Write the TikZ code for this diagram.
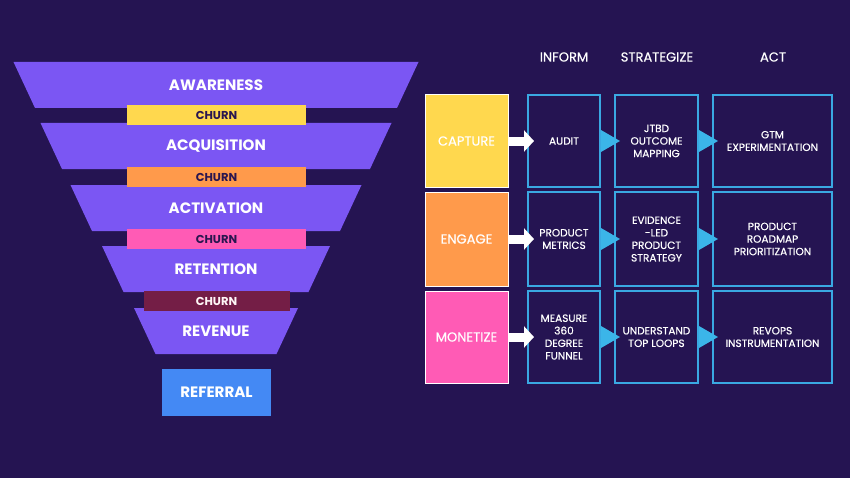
\documentclass[tikz,border=0pt]{standalone}
\usepackage{fontspec}
\setmainfont{Poppins}
\newfontfamily\popmid[FakeBold=0.5]{Poppins}
\usetikzlibrary{arrows.meta,calc}
\definecolor{bgind}{HTML}{251452}
\definecolor{funnel}{HTML}{7B56F3}
\definecolor{yel}{HTML}{FFD84E}
\definecolor{ora}{HTML}{FF9A4B}
\definecolor{pnk}{HTML}{FF5BB5}
\definecolor{wine}{HTML}{741E46}
\definecolor{ink}{HTML}{2A1650}
\definecolor{refblue}{HTML}{4489F4}
\definecolor{cyanline}{HTML}{3AA8E2}
\definecolor{tri}{HTML}{3BB5E9}
\tikzset{every picture/.style={line width=0.75pt}}

\begin{document}
\begin{tikzpicture}[x=0.75pt,y=0.75pt,yscale=-1,xscale=1,
  layerlabel/.style={text=white,font=\fontsize{11.3}{13}\selectfont\bfseries,inner sep=0.75pt},
  churnlabel/.style={font=\fontsize{8.6}{10}\selectfont\bfseries,inner sep=0.75pt},
  stagebox/.style={draw=white,line width=0.75pt,minimum width=62.25pt,minimum height=69pt,inner sep=0pt,text=white,font=\fontsize{9.8}{11}\selectfont\popmid},
  stepbox/.style={draw=cyanline,line width=1.5pt,fill=bgind,minimum height=69pt,inner sep=0pt,text=white,align=center,font=\fontsize{7.9}{9.4}\selectfont\popmid},
  colhead/.style={text=white,font=\fontsize{9.8}{11}\selectfont\popmid,inner sep=0.75pt},
  wharrow/.style={draw=white,line width=6.75pt,-{Triangle[length=7.5pt,width=15.75pt]}},
  bluetip/.style={fill=tri}]

% background
\fill[bgind] (0,0) rectangle (850,478);

% funnel layers
\foreach \name/\txt/\top/\hw in {aware/AWARENESS/62/202.5,acq/ACQUISITION/123/175.5,act/ACTIVATION/185/145.5,ret/RETENTION/246/114,rev/REVENUE/308/82}{
  \fill[funnel] (216-\hw,\top) -- (216+\hw,\top) -- (216+\hw-21.5,\top+46) -- (216-\hw+21.5,\top+46) -- cycle;
  \node[layerlabel] (\name) at (216,\top+23) {\txt};
}

% churn bars
\foreach \name/\y/\hw/\col/\tc in {chone/115/89.5/yel/ink,chtwo/177/89.5/ora/ink,chthree/239/89.5/pnk/ink,chfour/301/73/wine/white!88!pink}{
  \fill[\col] (216.5-\hw,\y-10) rectangle (216.5+\hw,\y+10);
  \node[churnlabel,text=\tc] (\name) at (216.5,\y) {CHURN};
}

% referral
\node[fill=refblue,minimum width=81.75pt,minimum height=35.25pt,inner sep=0pt,layerlabel] (refl) at (216.5,392.5) {REFERRAL};

% column heads
\node[colhead] (inform) at (564,57) {INFORM};
\node[colhead] (strat) at (657,57) {STRATEGIZE};
\node[colhead] (actcol) at (773,57) {ACT};

% stage boxes
\node[stagebox,fill=yel] (cap) at (466.5,141) {CAPTURE};
\node[stagebox,fill=ora,minimum height=70.5pt] (eng) at (466.5,239) {ENGAGE};
\node[stagebox,fill=pnk] (mon) at (466.5,337) {MONETIZE};

% inform
\node[stepbox,minimum width=54pt] (aud) at (564,141) {AUDIT};
\node[stepbox,minimum width=54pt,minimum height=70.5pt] (pmet) at (564,239) {PRODUCT\\METRICS};
\node[stepbox,minimum width=54pt] (meas) at (564,337) {MEASURE\\360\\DEGREE\\FUNNEL};

% strategize
\node[stepbox,minimum width=62.25pt] (jtbd) at (656.5,141) {JTBD\\OUTCOME\\MAPPING};
\node[stepbox,minimum width=62.25pt,minimum height=70.5pt] (evid) at (656.5,239) {EVIDENCE\\-LED\\PRODUCT\\STRATEGY};
\node[stepbox,minimum width=62.25pt] (loops) at (656.5,337) {UNDERSTAND\\TOP LOOPS};

% act
\node[stepbox,minimum width=89.25pt] (gtm) at (772.5,141) {GTM\\EXPERIMENTATION};
\node[stepbox,minimum width=89.25pt,minimum height=70.5pt] (road) at (772.5,239) {PRODUCT\\ROADMAP\\PRIORITIZATION};
\node[stepbox,minimum width=89.25pt] (revops) at (772.5,337) {REVOPS\\INSTRUMENTATION};

% white arrows
\draw[wharrow] (cap.east) -- ($(aud.west)+(7,0)$);
\draw[wharrow] (eng.east) -- ($(pmet.west)+(7,0)$);
\draw[wharrow] (mon.east) -- ($(meas.west)+(7,0)$);

% blue tips
\foreach \a in {aud,pmet,meas,jtbd,evid,loops}{
  \fill[bluetip] (\a.east) ++(0,-11) -- ++(19,11) -- ++(-19,11) -- cycle;
}

\end{tikzpicture}
\end{document}
